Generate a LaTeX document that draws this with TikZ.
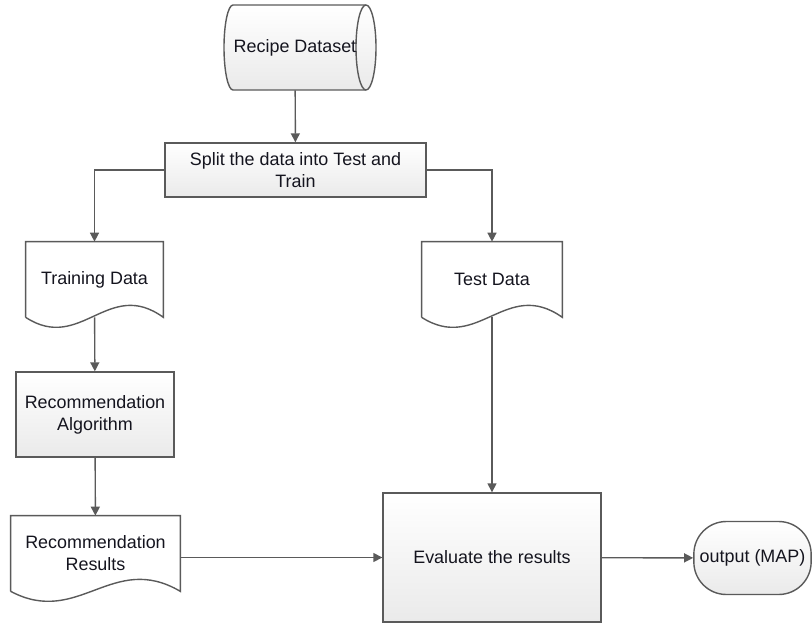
\documentclass[tikz,border=0pt]{standalone}
\usepackage{fontspec}
\setmainfont{Liberation Sans}
\usetikzlibrary{arrows.meta,calc}
\definecolor{edge}{RGB}{90,90,90}
\definecolor{ink}{RGB}{20,20,30}
\definecolor{pale}{RGB}{234,234,234}
\newcommand\lbl{\fontsize{10.2}{12.6}\selectfont}
\tikzset{
  >={Triangle[length=1.8mm,width=1.8mm]},
  box/.style={draw=edge,line width=0.8pt,top color=white,bottom color=pale,
    align=center,font=\lbl,text=ink},
  term/.style={box,rounded corners=0.65cm},
  doc/.style={align=center,font=\lbl,text=ink},
  docline/.style={draw=edge,line width=0.8pt},
  storeline/.style={draw=edge,line width=0.8pt,top color=white,bottom color=pale},
  flow/.style={->,draw=edge,line width=0.8pt},
}

\begin{document}
\begin{tikzpicture}[x=0.02cm,y=-0.02cm]
  \useasboundingbox (0,0) rectangle (812,626);
  % cylinder outline first, text goes on top
  \draw[storeline] (233,5) -- (366,5) arc[start angle=90,end angle=-90,x radius=0.2cm,y radius=0.85cm]
    -- (233,90) arc[start angle=270,end angle=90,x radius=0.18cm,y radius=0.85cm] -- cycle;
  \draw[docline] (366,5) arc[start angle=90,end angle=270,x radius=0.2cm,y radius=0.85cm];
  % steps
  \node[doc,minimum width=2.84cm,minimum height=1.7cm] (dataset) at (295,47.5) {Recipe Dataset};
  \node[box,minimum width=5.22cm,minimum height=1.08cm] (split) at (295.5,170) {Split the data into Test and\\Train};
  \node[doc,minimum width=2.74cm,minimum height=1.5cm] (train) at (94.5,279.5) {Training Data};
  \node[doc,minimum width=2.8cm,minimum height=1.5cm] (test) at (492,279.5) {Test Data};
  \node[box,minimum width=3.16cm,minimum height=1.7cm] (algo) at (95,414.5) {Recommendation\\Algorithm};
  \node[doc,minimum width=3.38cm,minimum height=1.5cm] (recres) at (95.5,553.5) {Recommendation\\Results};
  \node[box,minimum width=4.36cm,minimum height=2.58cm] (eval) at (492,557.5) {Evaluate the results};
  \node[term,minimum width=2.34cm,minimum height=1.46cm] (out) at (752.5,558) {output (MAP)};
  % document outlines
  \foreach \d in {train,test,recres}
    \draw[docline] (\d.south west) -- (\d.north west) -- (\d.north east) -- (\d.south east)
      .. controls ($(\d.south west)!0.6!(\d.south east)+(0,-40)$)
      and ($(\d.south west)!0.4!(\d.south east)+(0,36)$) .. (\d.south west);
  % connectors
  \draw[flow] (dataset) -- (split);
  \draw[flow] (split.west) -| (train.north);
  \draw[flow] (split.east) -| (test.north);
  \draw[flow] (train) -- (algo);
  \draw[flow] (algo) -- (recres);
  \draw[flow] (test) -- (eval);
  \draw[flow] (eval.west -| recres.east) -- (eval.west);
  \draw[flow] (eval) -- (out);
\end{tikzpicture}
\end{document}
